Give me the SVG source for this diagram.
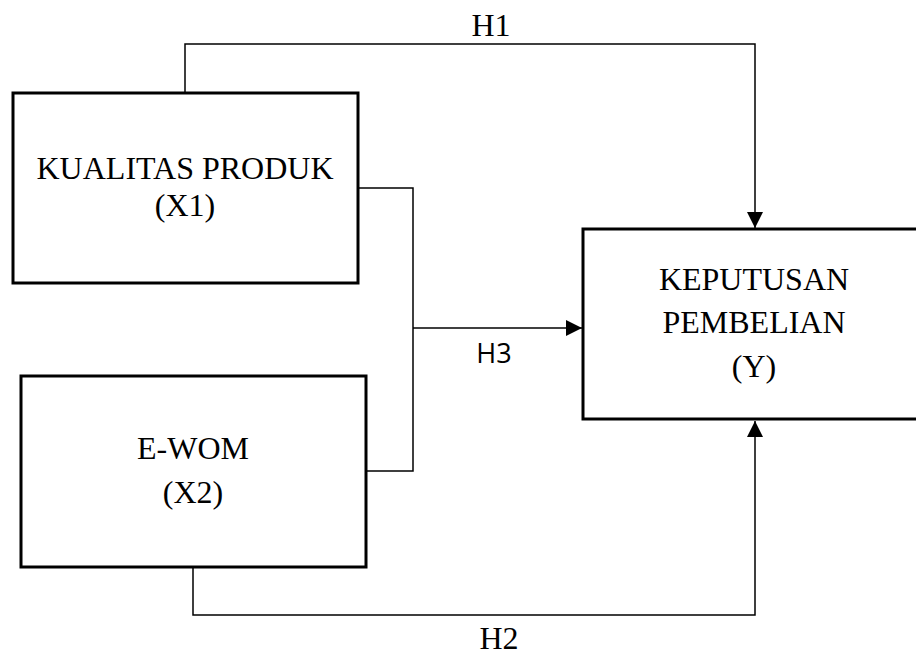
<svg xmlns="http://www.w3.org/2000/svg" width="916" height="655" viewBox="0 0 916 655">
<style>
.box{fill:#fff;stroke:#000;stroke-width:3}
.t{font-family:"Liberation Serif","Times New Roman",serif;font-size:32px;fill:#000;text-anchor:middle}
.s{font-family:"Open Sans","Liberation Sans",sans-serif;font-size:27px;fill:#000;text-anchor:middle}
.c{fill:none;stroke:#000;stroke-width:1.5}
</style>
<defs>
<marker id="ah" viewBox="0 0 10 10" refX="10" refY="5" markerWidth="16" markerHeight="16" markerUnits="userSpaceOnUse" orient="auto">
<path d="M0,0 L10,5 L0,10 z" fill="#000"/>
</marker>
</defs>
<rect width="916" height="655" fill="#fff"/>
<g id="connectors">
<path class="c" d="M185,93 V44 H755 V228" marker-end="url(#ah)"/>
<path class="c" d="M193,567 V615 H755 V421" marker-end="url(#ah)"/>
<path class="c" d="M358,188 H413 V471 H366"/>
<path class="c" d="M413,328 H582" marker-end="url(#ah)"/>
<text class="t" x="491" y="36">H1</text>
<text class="t" x="499" y="649">H2</text>
<text class="s" x="494" y="363">H3</text>
</g>
<g id="x1">
<rect class="box" x="13" y="93" width="345" height="190"/>
<text class="t" x="185" y="179">KUALITAS PRODUK</text>
<text class="t" x="185" y="216">(X1)</text>
</g>
<g id="x2">
<rect class="box" x="21" y="376" width="345" height="191"/>
<text class="t" x="193" y="459">E-WOM</text>
<text class="t" x="193" y="503">(X2)</text>
</g>
<g id="y">
<rect class="box" x="583" y="229" width="340" height="190"/>
<text class="t" x="754" y="290">KEPUTUSAN</text>
<text class="t" x="754" y="333">PEMBELIAN</text>
<text class="t" x="754" y="377">(Y)</text>
</g>
</svg>
